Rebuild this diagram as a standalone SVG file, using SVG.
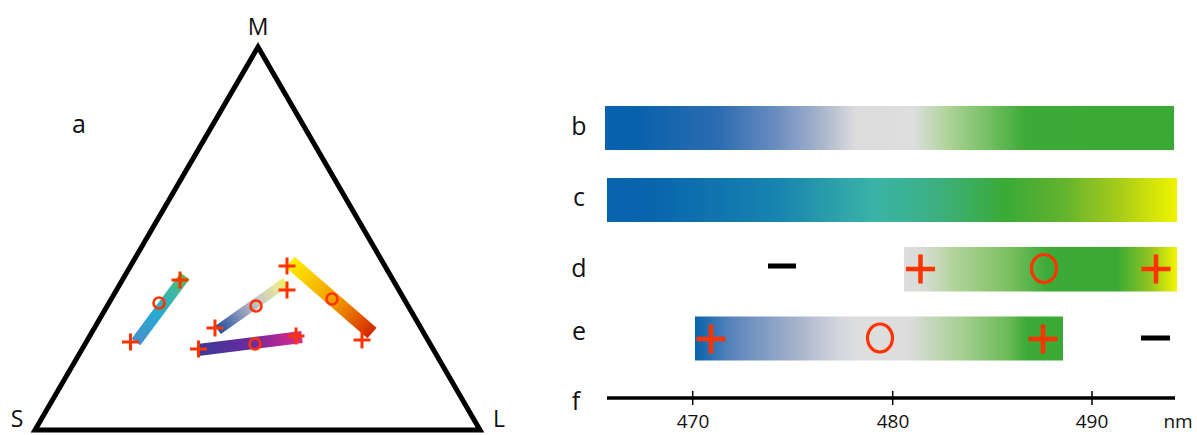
<svg xmlns="http://www.w3.org/2000/svg" width="1197" height="435" viewBox="0 0 1197 435">
<style>
.lbl{font-family:"Open Sans","Noto Sans","Liberation Sans",sans-serif;fill:#111;}
.big{font-size:25px;text-anchor:middle;}
.tri{font-size:23px;text-anchor:middle;}
.tick{font-size:19px;text-anchor:middle;}
.xr{stroke:#ff3300;stroke-width:4.5;fill:none;}
.xs{stroke:#ff3300;stroke-width:3;fill:none;}
.cr{stroke:#ff3300;stroke-width:3.2;fill:none;}
.cs{stroke:#ff3300;stroke-width:2.6;fill:none;}
.dash{fill:#000;}
</style>
<defs>
<linearGradient id="gb" x1="0" x2="1" y1="0" y2="0">
<stop offset="0" stop-color="#0762ad"/><stop offset="0.06" stop-color="#0a62ac"/><stop offset="0.2" stop-color="#2c6cb2"/><stop offset="0.3" stop-color="#6a8cc0"/><stop offset="0.38" stop-color="#a8b4cc"/><stop offset="0.44" stop-color="#dcdcdc"/><stop offset="0.54" stop-color="#dedede"/><stop offset="0.6" stop-color="#b0d49c"/><stop offset="0.67" stop-color="#78c065"/><stop offset="0.74" stop-color="#3caa36"/><stop offset="1" stop-color="#3aaa35"/>
</linearGradient>
<linearGradient id="gc" x1="0" x2="1" y1="0" y2="0">
<stop offset="0" stop-color="#0a62ac"/><stop offset="0.09" stop-color="#0866ad"/><stop offset="0.3" stop-color="#1884b0"/><stop offset="0.47" stop-color="#3ab4a6"/><stop offset="0.58" stop-color="#3cb080"/><stop offset="0.7" stop-color="#3aaa35"/><stop offset="0.8" stop-color="#62b32f"/><stop offset="0.9" stop-color="#a8cc18"/><stop offset="1" stop-color="#f0f500"/>
</linearGradient>
<linearGradient id="gd" x1="0" x2="1" y1="0" y2="0">
<stop offset="0" stop-color="#dedede"/><stop offset="0.07" stop-color="#d8dcd4"/><stop offset="0.18" stop-color="#b2d49c"/><stop offset="0.38" stop-color="#7cc062"/><stop offset="0.53" stop-color="#3caa36"/><stop offset="0.78" stop-color="#3aaa35"/><stop offset="0.9" stop-color="#90c420"/><stop offset="1" stop-color="#f5f500"/>
</linearGradient>
<linearGradient id="ge" x1="0" x2="1" y1="0" y2="0">
<stop offset="0" stop-color="#0a62ac"/><stop offset="0.1" stop-color="#5a84ba"/><stop offset="0.28" stop-color="#a8b4cc"/><stop offset="0.4" stop-color="#d6d8de"/><stop offset="0.45" stop-color="#dedede"/><stop offset="0.58" stop-color="#dcdcdc"/><stop offset="0.72" stop-color="#a8d094"/><stop offset="0.85" stop-color="#6cbb58"/><stop offset="0.9" stop-color="#3caa36"/><stop offset="1" stop-color="#3aaa35"/>
</linearGradient>
<linearGradient id="t1" gradientUnits="userSpaceOnUse" x1="136" y1="342" x2="185" y2="276">
<stop offset="0" stop-color="#4a90cc"/><stop offset="0.4" stop-color="#28a8d0"/><stop offset="0.78" stop-color="#40b8a0"/><stop offset="1" stop-color="#60b840"/>
</linearGradient>
<linearGradient id="t2" gradientUnits="userSpaceOnUse" x1="218" y1="330" x2="286" y2="282">
<stop offset="0" stop-color="#2050a0"/><stop offset="0.3" stop-color="#8090b8"/><stop offset="0.6" stop-color="#c8c8c8"/><stop offset="0.85" stop-color="#e4e4a0"/><stop offset="1" stop-color="#f0f060"/>
</linearGradient>
<linearGradient id="t3" gradientUnits="userSpaceOnUse" x1="198" y1="350" x2="302" y2="337">
<stop offset="0" stop-color="#3a3a9a"/><stop offset="0.5" stop-color="#6a2aa0"/><stop offset="0.85" stop-color="#c02890"/><stop offset="1" stop-color="#d83080"/>
</linearGradient>
<linearGradient id="t4" gradientUnits="userSpaceOnUse" x1="290" y1="262" x2="372" y2="333">
<stop offset="0" stop-color="#fff000"/><stop offset="0.3" stop-color="#f8c000"/><stop offset="0.6" stop-color="#f09000"/><stop offset="0.85" stop-color="#e05000"/><stop offset="1" stop-color="#d02800"/>
</linearGradient>
</defs>

<g id="panel-a">
<g id="triangle">
<polygon points="258,47 35,430 480,430" fill="none" stroke="#000" stroke-width="5" stroke-linejoin="miter"/>
<text class="lbl tri" x="258" y="35">M</text>
<text class="lbl tri" x="17" y="427">S</text>
<text class="lbl tri" x="499" y="427">L</text>
<text class="lbl big" x="79" y="133">a</text>
</g>
<g id="bar-t1">
<line x1="136" y1="342" x2="185" y2="276" stroke="url(#t1)" stroke-width="11"/>
<path class="xs" d="M122,342h17M130.5,333.5v17"/>
<path class="xs" d="M171.5,280h17M180,271.5v17"/>
<circle class="cs" cx="159" cy="303" r="5.5"/>
</g>
<g id="bar-t2">
<line x1="218" y1="330" x2="286" y2="282" stroke="url(#t2)" stroke-width="10"/>
<path class="xs" d="M206.5,328h17M215,319.5v17"/>
<path class="xs" d="M278.5,290h17M287,281.5v17"/>
<circle class="cs" cx="256" cy="306" r="5.5"/>
</g>
<g id="bar-t3">
<line x1="198" y1="350" x2="302" y2="337" stroke="url(#t3)" stroke-width="12"/>
<path class="xs" d="M190,349h17M198.5,340.5v17"/>
<path class="xs" d="M287.5,336h17M296,327.5v17"/>
<circle class="cs" cx="255" cy="344" r="5.5"/>
</g>
<g id="bar-t4">
<line x1="290" y1="262" x2="372" y2="333" stroke="url(#t4)" stroke-width="14"/>
<path class="xs" d="M278.5,266h17M287,257.5v17"/>
<path class="xs" d="M353.5,340h17M362,331.5v17"/>
<circle class="cs" cx="332" cy="299" r="5.5"/>
</g>
</g>

<g id="row-b">
<text class="lbl big" x="579" y="135">b</text>
<rect x="605" y="106" width="569" height="44" fill="url(#gb)"/>
</g>
<g id="row-c">
<text class="lbl big" x="579" y="206">c</text>
<rect x="607" y="178" width="570" height="44" fill="url(#gc)"/>
</g>
<g id="row-d">
<text class="lbl big" x="579" y="277">d</text>
<rect class="dash" x="768" y="263.5" width="28" height="5"/>
<rect x="904" y="247" width="273" height="44.5" fill="url(#gd)"/>
<path class="xr" d="M906,269h29M920.5,254.5v29"/>
<ellipse class="cr" cx="1044" cy="268.5" rx="12.5" ry="14"/>
<path class="xr" d="M1141.5,269h29M1156,254.5v29"/>
</g>
<g id="row-e">
<text class="lbl big" x="579" y="340">e</text>
<rect x="695" y="316.5" width="368" height="44" fill="url(#ge)"/>
<path class="xr" d="M696.5,339h29M711,324.5v29"/>
<ellipse class="cr" cx="880" cy="338" rx="12.5" ry="14"/>
<path class="xr" d="M1028.5,339h29M1043,324.5v29"/>
<rect class="dash" x="1141" y="335.5" width="29" height="5"/>
</g>
<g id="axis-f">
<text class="lbl big" x="576" y="410">f</text>
<line x1="607" y1="398" x2="1175" y2="398" stroke="#000" stroke-width="3.4"/>
<path d="M692.7,391v14M892.7,391v14M1092,391v14" stroke="#000" stroke-width="1.5"/>
<text class="lbl tick" x="693" y="428">470</text>
<text class="lbl tick" x="893" y="428">480</text>
<text class="lbl tick" x="1092" y="428">490</text>
<text class="lbl tick" x="1178" y="428">nm</text>
</g>
</svg>
